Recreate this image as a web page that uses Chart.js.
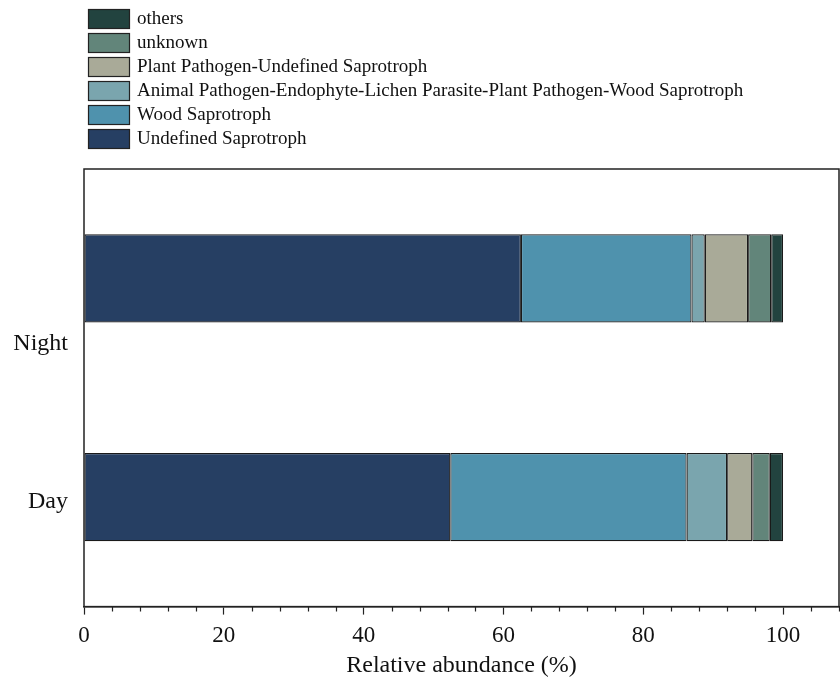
<!DOCTYPE html>
<html>
<head>
<meta charset="utf-8">
<script src="https://cdn.jsdelivr.net/npm/chart.js@4.4.1/dist/chart.umd.min.js"></script>
<style>
  html, body { margin: 0; padding: 0; background: #ffffff; }
  #wrap { width: 840px; height: 681px; }
</style>
</head>
<body>
<div id="wrap"><canvas id="c" width="840" height="681"></canvas></div>
<script>
// Sampling periods (top to bottom)
const periods = ['Night', 'Day'];

// Functional guilds, stacked left to right
const guilds = [
  'Undefined Saprotroph',
  'Wood Saprotroph',
  'Animal Pathogen-Endophyte-Lichen Parasite-Plant Pathogen-Wood Saprotroph',
  'Plant Pathogen-Undefined Saprotroph',
  'unknown',
  'others'
];

// Relative abundance (%) per guild, [Night, Day]
const undefinedSaprotroph = [62.5, 52.4];
const woodSaprotroph      = [24.4, 33.8];
const animalPathogenMix   = [1.9, 5.8];
const plantPathogenUndef  = [6.2, 3.6];
const unknownGuild        = [3.3, 2.5];
const othersGuild         = [1.7, 1.9];

const guildColors = ['#263f63', '#4f92ad', '#7aa5ae', '#a9aa98', '#62857a', '#22433f'];

const xTicksMajor = [0, 20, 40, 60, 80, 100];

const seriesValues = [undefinedSaprotroph, woodSaprotroph, animalPathogenMix,
                      plantPathogenUndef, unknownGuild, othersGuild];

const SERIF = "'Liberation Serif', 'Times New Roman', serif";

// Legend stacked top-left, last guild first
const guildLegend = {
  id: 'guildLegend',
  afterDraw(chart) {
    const ctx = chart.ctx;
    const ds = chart.data.datasets.slice().reverse();
    ctx.save();
    ctx.font = '19px ' + SERIF;
    ctx.textBaseline = 'middle';
    ds.forEach((d, i) => {
      const y = 9 + i * 24;
      ctx.fillStyle = d.backgroundColor;
      ctx.fillRect(88, y, 42, 20);
      ctx.strokeStyle = '#222222';
      ctx.lineWidth = 1.2;
      ctx.strokeRect(88.5, y + 0.5, 41, 19);
      ctx.fillStyle = '#111111';
      ctx.fillText(d.label, 137, y + 10.5);
    });
    ctx.restore();
  }
};

// Frame, minor x ticks and category labels
const frameAndLabels = {
  id: 'frameAndLabels',
  afterDraw(chart) {
    const ctx = chart.ctx;
    const a = chart.chartArea;
    const xs = chart.scales.x;
    const ys = chart.scales.y;
    ctx.save();
    ctx.strokeStyle = '#222222';
    ctx.lineWidth = 1.5;
    ctx.strokeRect(a.left, a.top, a.right - a.left, a.bottom - a.top);
    // minor ticks
    ctx.lineWidth = 1.2;
    ctx.beginPath();
    for (let v = 0; v <= xs.max; v += 4) {
      if (v % 20 === 0) continue;
      const px = Math.round(xs.getPixelForValue(v)) + 0.5;
      ctx.moveTo(px, a.bottom);
      ctx.lineTo(px, a.bottom + 5);
    }
    ctx.stroke();
    // category labels
    const shift = [65, 5];
    ctx.fillStyle = '#111111';
    ctx.font = '24px ' + SERIF;
    ctx.textAlign = 'right';
    ctx.textBaseline = 'middle';
    periods.forEach((p, i) => {
      ctx.fillText(p, 68, ys.getPixelForValue(i) + shift[i]);
    });
    ctx.restore();
  }
};

new Chart(document.getElementById('c'), {
  type: 'bar',
  data: {
    labels: periods,
    datasets: guilds.map((g, i) => ({
      label: g,
      data: seriesValues[i],
      backgroundColor: guildColors[i],
      borderColor: '#1a1a1a',
      borderWidth: 1.2,
      borderSkipped: false,
      barPercentage: 0.403,
      categoryPercentage: 1.0
    }))
  },
  options: {
    indexAxis: 'y',
    responsive: false,
    animation: false,
    devicePixelRatio: 1,
    layout: { padding: { top: 169, left: 84, right: 1, bottom: 1 } },
    plugins: {
      legend: { display: false },
      tooltip: { enabled: false }
    },
    scales: {
      x: {
        stacked: true,
        min: 0,
        max: 108,
        afterFit: (s) => { s.paddingRight = 0; s.paddingLeft = 0; },
        border: { display: true, color: '#222222', width: 1.5 },
        grid: {
          drawOnChartArea: false,
          drawTicks: true,
          tickLength: 8,
          tickWidth: 1.2,
          tickColor: (c) => (xTicksMajor.includes(c.tick && c.tick.value) ? '#222222' : 'rgba(0,0,0,0)')
        },
        ticks: {
          stepSize: 4,
          autoSkip: false,
          maxRotation: 0,
          padding: 8,
          color: '#111111',
          font: { family: SERIF, size: 23 },
          callback: (v) => (xTicksMajor.includes(v) ? String(v) : '')
        },
        title: {
          display: true,
          text: 'Relative abundance (%)',
          color: '#111111',
          font: { family: SERIF, size: 24 },
          padding: { top: -7, bottom: 0 }
        }
      },
      y: {
        stacked: true,
        display: true,
        border: { display: false },
        grid: { display: false, drawTicks: false },
        ticks: { display: false }
      }
    }
  },
  plugins: [guildLegend, frameAndLabels]
});
</script>
</body>
</html>
